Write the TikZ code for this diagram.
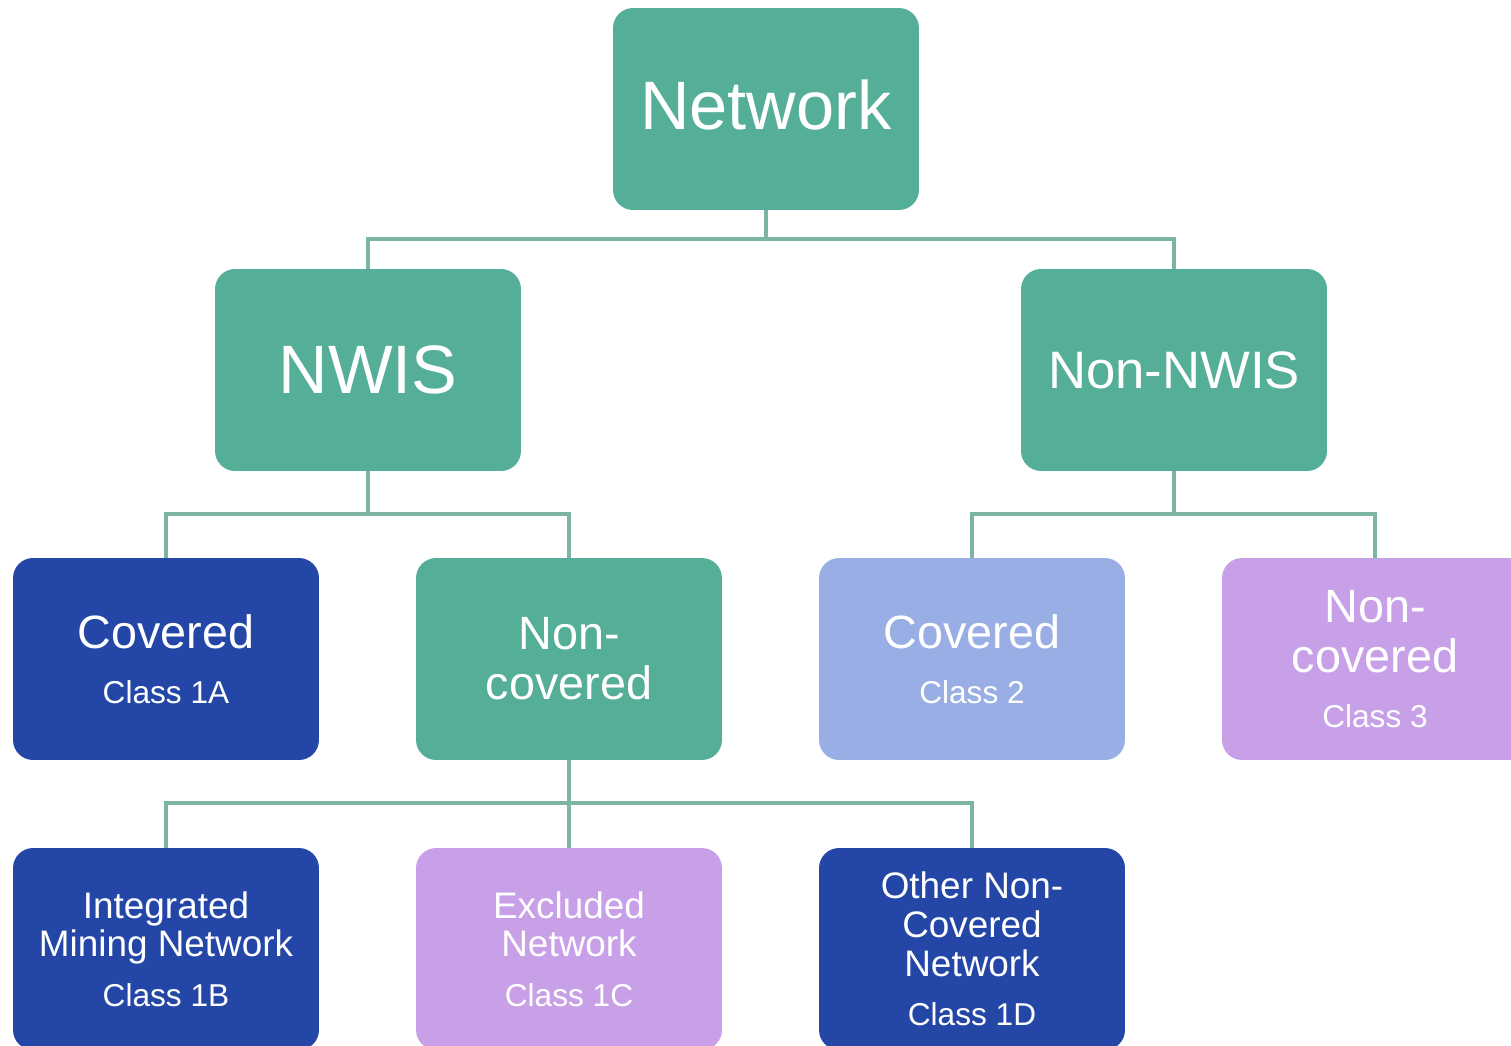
\documentclass[tikz,border=0pt]{standalone}
\usepackage{fontspec}
\setmainfont{Liberation Sans}
\usetikzlibrary{calc,positioning}
\definecolor{tealbox}{HTML}{55AE98}
\definecolor{darkbox}{HTML}{2446A7}
\definecolor{lightbox}{HTML}{9AAEE6}
\definecolor{lilacbox}{HTML}{C8A0E8}
\definecolor{linkcol}{HTML}{7DB5A5}
\newcommand{\boxw}{6.12cm}
\newcommand{\boxh}{4.04cm}
\newcommand{\bigfs}{\fontsize{39}{42}\selectfont}
\newcommand{\midfs}{\fontsize{30}{33}\selectfont}
\newcommand{\labfs}{\fontsize{26.6}{28.5}\selectfont}
\newcommand{\smlfs}{\fontsize{21}{22}\selectfont}
\newcommand{\clsfs}{\fontsize{18}{20}\selectfont}
\tikzset{
    boxsty/.style={rectangle, rounded corners=0.4cm, minimum width=\boxw, minimum height=\boxh, text=white, align=center, inner sep=0pt},
    tlsty/.style={boxsty, fill=tealbox},
    dbsty/.style={boxsty, fill=darkbox},
    lbsty/.style={boxsty, fill=lightbox},
    lvsty/.style={boxsty, fill=lilacbox},
    linksty/.style={draw=linkcol, line width=2.3pt},
}

\begin{document}
\begin{tikzpicture}[x=0.02cm, y=-0.02cm]
  \clip (0,0) rectangle (1511,1045);

  % top levels
  \node[tlsty, font=\bigfs, text height=22.8pt, text depth=0pt] (net) at (766,109) {Network};
  \node[tlsty, font=\bigfs]  (nwis)    at (368,370)  {NWIS};
  \node[tlsty, font=\midfs]  (nonnwis) at (1174,370) {Non-NWIS};

  % third row
  \node[dbsty, font=\labfs]  (cov1a)   at (166,659)  {Covered\\[3pt]\clsfs Class 1A};
  \node[tlsty, font=\labfs]  (noncov)  at (569,659)  {Non-\\covered};
  \node[lbsty, font=\labfs]  (cov2)    at (972,659)  {Covered\\[3pt]\clsfs Class 2};
  \node[lvsty, font=\labfs]  (noncov3) at (1375,659) {Non-\\covered\\[3pt]\clsfs Class 3};

  % bottom row
  \node[dbsty, font=\smlfs]  (imn)     at (166,949)  {Integrated\\Mining Network\\[6pt]\clsfs Class 1B};
  \node[lvsty, font=\smlfs]  (excl)    at (569,949)  {Excluded\\Network\\[6pt]\clsfs Class 1C};
  \node[dbsty, font=\smlfs]  (other)   at (972,949)  {Other Non-\\Covered\\Network\\[6pt]\clsfs Class 1D};

  \draw[linksty] (net.south) -- ++(0,29) -| (nwis.north);
  \draw[linksty] (net.south) -- ++(0,29) -| (nonnwis.north);
  \draw[linksty] (nwis.south) -- ++(0,43) -| (cov1a.north);
  \draw[linksty] (nwis.south) -- ++(0,43) -| (noncov.north);
  \draw[linksty] (nonnwis.south) -- ++(0,43) -| (cov2.north);
  \draw[linksty] (nonnwis.south) -- ++(0,43) -| (noncov3.north);
  \draw[linksty] (noncov.south) -- ++(0,43) -| (imn.north);
  \draw[linksty] (noncov.south) -- (excl.north);
  \draw[linksty] (noncov.south) -- ++(0,43) -| (other.north);
\end{tikzpicture}
\end{document}
